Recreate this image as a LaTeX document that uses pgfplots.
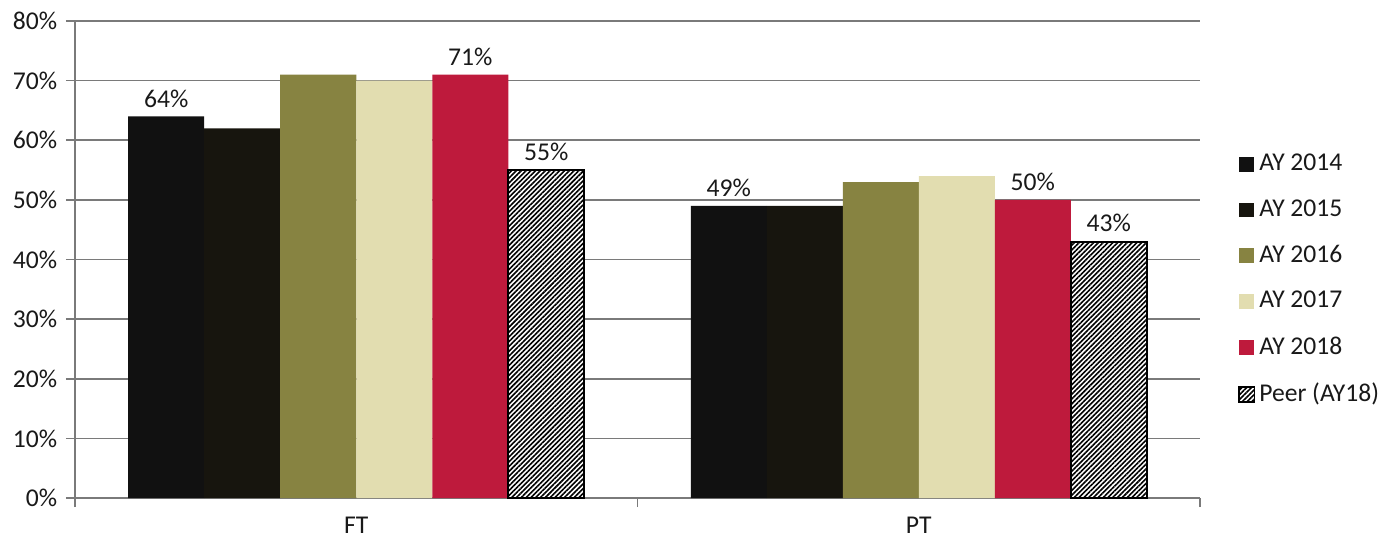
\documentclass[border=0pt]{standalone}
\usepackage{fontspec}
\setmainfont{Carlito}
\usepackage{pgfplots}
\pgfplotsset{compat=1.18}
\usetikzlibrary{patterns.meta}
\definecolor{cA}{HTML}{111111}
\definecolor{cB}{HTML}{17150E}
\definecolor{cC}{HTML}{878341}
\definecolor{cD}{HTML}{E2DDB0}
\definecolor{cE}{HTML}{BE1A3C}
\definecolor{gridc}{HTML}{7A7A7A}
\newcommand{\fs}{\fontsize{12.8}{15}\selectfont}
\begin{document}
\fs
\begin{tikzpicture}
\begin{axis}[
 at={(0,0)}, anchor=south west,
 scale only axis, width=562.5pt, height=238.5pt,
 ybar=0pt, bar width=38pt,
 xmin=-0.5, xmax=1.5, ymin=0, ymax=80,
 axis lines=left, axis line style={-, gridc, line width=0.8pt},
 /pgf/number format/assume math mode=true,
 ytick={0,10,...,80}, yticklabel={\pgfmathprintnumber{\tick}\%},
 ymajorgrids, grid style={gridc, line width=0.8pt},
 tick align=outside, major tick length=4.5pt,
 tick style={gridc, line width=0.8pt},
 tick label style={font=\fs, text=black!90},
 xtick={-0.5,0.5,1.5}, xticklabels={},
 extra x ticks={0,1}, extra x tick labels={FT,PT},
 extra x tick style={major tick length=0pt, xticklabel style={yshift=-5pt}},
 clip=false,
 legend style={at={(1.028,0.457)}, anchor=west, draw=none, fill=none,
   row sep=8.5pt, font=\fs, text=black!90},
 legend cell align=left,
 legend image code/.code={\path[#1] (0pt,-3.7pt) rectangle (7.8pt,3.7pt);},
 nodes near coords style={font=\fs, text=black!90},
]
\addplot[fill=cA, draw=none, nodes near coords={\pgfmathprintnumber{\pgfplotspointmeta}\%}] coordinates {(0,64) (1,49)};
\addplot[fill=cB, draw=none] coordinates {(0,62) (1,49)};
\addplot[fill=cC, draw=none] coordinates {(0,71) (1,53)};
\addplot[fill=cD, draw=none] coordinates {(0,70) (1,54)};
\addplot[fill=cE, draw=none, nodes near coords={\pgfmathprintnumber{\pgfplotspointmeta}\%}] coordinates {(0,71) (1,50)};
\addplot[fill=white, draw=black, line width=0.9pt, postaction={pattern={Lines[angle=45,distance=1.7pt,line width=0.8pt]}, draw=black, line width=0.9pt}, nodes near coords={\pgfmathprintnumber{\pgfplotspointmeta}\%}] coordinates {(0,55) (1,43)};
\legend{AY 2014, AY 2015, AY 2016, AY 2017, AY 2018, Peer (AY18)}
\end{axis}
\pgfresetboundingbox
\useasboundingbox (-37.5pt,-20pt) rectangle (662pt,249pt);
\end{tikzpicture}
\end{document}
